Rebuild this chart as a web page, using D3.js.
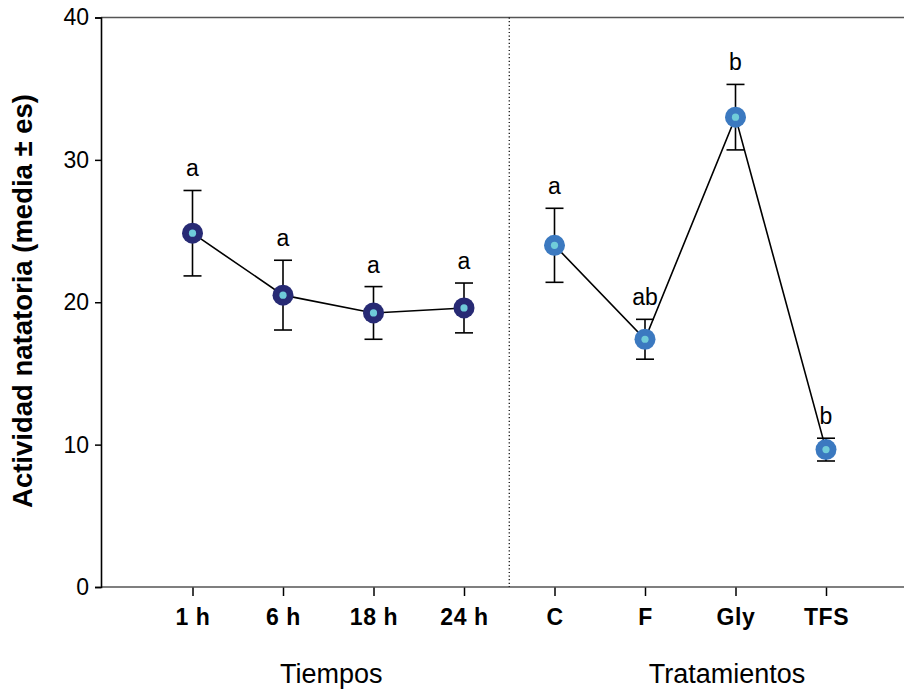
<!DOCTYPE html>
<html>
<head>
<meta charset="utf-8">
<script src="https://cdn.jsdelivr.net/npm/d3@7"></script>
<style>
  body { margin: 0; background: #fff; }
  text { font-family: Arial, "Liberation Sans", sans-serif; }
</style>
</head>
<body>
<div id="chart"></div>
<script>
// data
const tiempos = ["1 h", "6 h", "18 h", "24 h"];
const tiempoMean = [24.85, 20.5, 19.25, 19.6];
const tiempoErr = [3.0, 2.45, 1.85, 1.75];
const tiempoLetters = ["a", "a", "a", "a"];

const tratamientos = ["C", "F", "Gly", "TFS"];
const tratMean = [24.0, 17.4, 33.0, 9.65];
const tratErr = [2.6, 1.4, 2.3, 0.8];
const tratLetters = ["a", "ab", "b", "b"];

const yTicks = [0, 10, 20, 30, 40];

const width = 904; const height = 691;
const margin = {top: 17.5, right: 0, bottom: 104, left: 101};
const innerWidth = width - margin.left - margin.right;
const innerHeight = height - margin.top - margin.bottom;

let svg = d3.select('#chart')
    .append('svg')
        .attr('width', width)
        .attr('height', height);
let plotG = svg.append('g')
    .attr('transform', `translate(${margin.left}, ${margin.top})`);

const categories = tiempos.concat(tratamientos);

const x_scale = d3.scalePoint()
    .domain(categories)
    .range([192.5 - margin.left, 826 - margin.left]);
const y_scale = d3.scaleLinear()
    .domain([0, 40])
    .range([innerHeight, 0]);

// frame lines (top and bottom are gray, left is black)
plotG.append('line')
    .attr('x1', 0).attr('x2', innerWidth)
    .attr('y1', 0).attr('y2', 0)
    .attr('stroke', '#555').attr('stroke-width', 1.6);

const x_axis = d3.axisBottom(x_scale)
    .tickSize(9)
    .tickPadding(13)
    .tickSizeOuter(0);
let xg = plotG.append('g')
    .attr('transform', `translate(0, ${innerHeight})`)
    .call(x_axis);
xg.select('.domain').remove();
xg.append('line')
    .attr('x1', 0).attr('x2', innerWidth)
    .attr('stroke', '#555').attr('stroke-width', 1.6);
xg.selectAll('.tick line').attr('stroke', '#000').attr('stroke-width', 1.5);
xg.selectAll('.tick text')
    .attr('fill', '#000')
    .style('font-size', '23px')
    .style('font-weight', 'bold')
    .style('letter-spacing', '0.6px');

const y_axis = d3.axisLeft(y_scale)
    .tickValues(yTicks)
    .tickSize(6)
    .tickPadding(6)
    .tickSizeOuter(6);
let yg = plotG.append('g').call(y_axis);
yg.select('.domain').attr('stroke', '#000').attr('stroke-width', 1.6);
yg.selectAll('.tick line').attr('stroke', '#000').attr('stroke-width', 1.5);
yg.selectAll('.tick text')
    .attr('fill', '#000')
    .style('font-size', '23px');

// separator between the two groups
const sepX = (x_scale("24 h") + x_scale("C")) / 2;
plotG.append('line')
    .attr('x1', sepX).attr('x2', sepX)
    .attr('y1', 0).attr('y2', innerHeight)
    .attr('stroke', '#000')
    .attr('stroke-width', 1.2)
    .attr('stroke-dasharray', '1.2,2.4');

// axis titles
svg.append('text')
    .attr('x', (x_scale("1 h") + x_scale("24 h")) / 2 + margin.left + 3)
    .attr('y', 683)
    .attr('text-anchor', 'middle')
    .style('font-size', '27px')
    .text('Tiempos');
svg.append('text')
    .attr('x', 727)
    .attr('y', 683)
    .attr('text-anchor', 'middle')
    .style('font-size', '27px')
    .text('Tratamientos');
svg.append('text')
    .attr('transform', `translate(32, 301) rotate(-90)`)
    .attr('text-anchor', 'middle')
    .style('font-size', '27.5px')
    .style('font-weight', 'bold')
    .text('Actividad natatoria (media ± es)');

function drawGroup(names, means, errs, letters, outer, inner){
    const rows = names.map(function(n, i){
        return {name: n, mean: means[i], err: errs[i], letter: letters[i]};
    });
    const g = plotG.append('g');
    const line = d3.line()
        .x(function(d){ return x_scale(d.name); })
        .y(function(d){ return y_scale(d.mean); });
    g.append('path')
        .datum(rows)
        .attr('d', line)
        .attr('fill', 'none')
        .attr('stroke', '#000')
        .attr('stroke-width', 1.6);
    // error bars
    const capW = 9;
    const eb = g.selectAll('.eb').data(rows).join('g').attr('class', 'eb');
    eb.append('line')
        .attr('x1', function(d){ return x_scale(d.name); })
        .attr('x2', function(d){ return x_scale(d.name); })
        .attr('y1', function(d){ return y_scale(d.mean + d.err); })
        .attr('y2', function(d){ return y_scale(d.mean - d.err); })
        .attr('stroke', '#000').attr('stroke-width', 1.6);
    [1, -1].forEach(function(s){
        eb.append('line')
            .attr('x1', function(d){ return x_scale(d.name) - capW; })
            .attr('x2', function(d){ return x_scale(d.name) + capW; })
            .attr('y1', function(d){ return y_scale(d.mean + s * d.err); })
            .attr('y2', function(d){ return y_scale(d.mean + s * d.err); })
            .attr('stroke', '#000').attr('stroke-width', 1.6);
    });
    // markers
    g.selectAll('.outer').data(rows).join('circle')
        .attr('class', 'outer')
        .attr('cx', function(d){ return x_scale(d.name); })
        .attr('cy', function(d){ return y_scale(d.mean); })
        .attr('r', 10.5)
        .attr('fill', outer);
    g.selectAll('.inner').data(rows).join('circle')
        .attr('class', 'inner')
        .attr('cx', function(d){ return x_scale(d.name); })
        .attr('cy', function(d){ return y_scale(d.mean); })
        .attr('r', 3.6)
        .attr('fill', inner);
    // significance letters
    g.selectAll('.lt').data(rows).join('text')
        .attr('class', 'lt')
        .attr('x', function(d){ return x_scale(d.name); })
        .attr('y', function(d){ return y_scale(d.mean + d.err) - 14; })
        .attr('text-anchor', 'middle')
        .style('font-size', '23px')
        .text(function(d){ return d.letter; });
}

drawGroup(tiempos, tiempoMean, tiempoErr, tiempoLetters, '#272a74', '#6fcbd9');
drawGroup(tratamientos, tratMean, tratErr, tratLetters, '#3b79c0', '#70ccd9');
</script>
</body>
</html>
